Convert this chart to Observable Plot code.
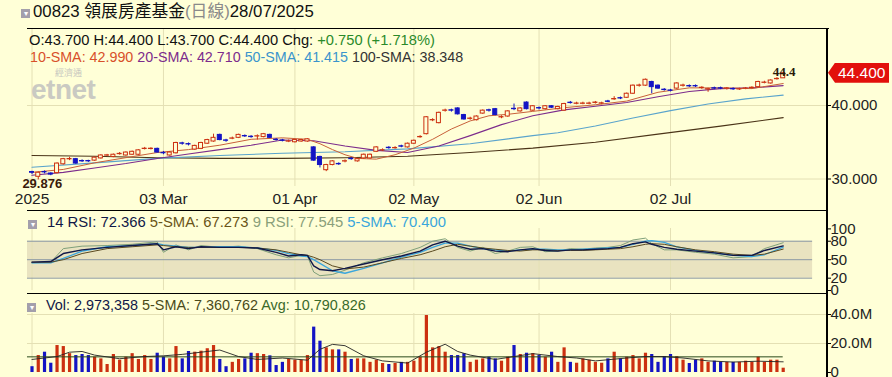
<!DOCTYPE html>
<html><head><meta charset="utf-8">
<script src="https://cdn.jsdelivr.net/npm/d3@7"></script>
<script src="https://cdn.jsdelivr.net/npm/@observablehq/plot@0.6"></script>
<style>
body{margin:0;background:#ffffd7;width:892px;height:377px;overflow:hidden;position:relative;font-family:"Liberation Sans",Arial,"Noto Sans CJK TC",sans-serif;}
.abs{position:absolute;white-space:nowrap;line-height:1;}
.cb{position:absolute;width:9px;height:9px;background:#a39fab;color:#fff;font-size:8px;line-height:9px;text-align:center;}
.hl{position:absolute;background:#000;}
svg{overflow:visible;}
</style></head><body>
<div id="root"></div>
<script>
// ---------- data ----------
const tickIndex = [0, 21, 42, 61, 81, 102];
const tickLabels = ["2025", "03 Mar", "01 Apr", "02 May", "02 Jun", "02 Jul"];
const opens = [30.95,30.3,30.95,30.75,30.8,32.0,32.68,32.7,32.45,32.45,32.5,32.8,33.18,33.0,33.38,33.2,33.3,33.3,34.08,34.08,34.1,33.55,33.2,33.5,34.85,34.75,34.0,34.1,34.8,35.1,36.0,35.25,35.48,35.6,35.85,35.75,35.78,35.7,36.0,35.35,35.25,35.08,35.0,35.1,35.1,34.3,33.0,31.2,31.9,32.05,32.38,32.75,32.4,32.8,32.8,33.7,33.88,34.25,34.18,34.45,34.3,34.8,35.68,36.1,37.98,37.6,39.28,39.35,39.6,38.7,38.18,38.0,38.9,39.35,39.5,38.38,38.5,39.55,39.2,40.4,39.3,39.65,39.5,39.9,39.5,39.3,40.38,40.23,40.23,40.23,40.35,40.25,40.55,40.83,41.0,41.05,41.6,42.68,42.7,43.2,42.7,42.15,42.05,42.3,42.68,42.65,42.65,42.38,42.18,42.35,42.35,42.28,42.25,42.18,42.28,42.38,42.5,43.08,43.0,43.58,43.7];
const highs = [31.05,30.95,31.1,30.85,32.2,32.8,32.95,32.8,32.6,32.55,33.0,33.3,33.35,33.4,33.6,33.7,33.8,34.0,34.3,34.25,34.2,33.75,33.7,35.0,35.0,34.9,34.6,35.0,35.4,36.1,36.1,35.4,35.7,36.1,36.0,35.9,36.0,36.2,36.1,35.5,35.4,35.3,35.4,35.4,35.5,34.4,33.1,32.0,32.5,32.2,32.6,32.9,32.8,33.4,33.4,34.4,34.1,34.4,34.4,34.6,34.9,35.3,35.9,38.5,38.2,39.1,39.5,39.5,39.7,38.8,38.4,38.6,39.4,39.5,39.6,38.6,39.3,40.2,39.7,40.5,40.0,39.8,40.0,40.0,39.9,40.3,40.55,40.45,40.45,40.45,40.55,40.45,40.7,41.2,41.15,41.7,42.8,42.9,43.6,43.3,42.8,42.3,42.2,43.1,42.9,42.8,42.8,42.55,42.35,42.5,42.5,42.45,42.4,42.35,42.45,42.55,43.3,43.3,43.5,43.8,44.4];
const lows = [30.6,29.876,30.7,30.45,30.7,31.9,32.5,32.0,32.25,32.25,32.4,32.7,33.05,32.9,33.25,33.1,33.2,33.2,33.95,33.95,33.55,33.3,33.1,33.4,34.6,34.5,33.9,34.0,34.7,35.0,35.2,35.0,35.35,35.5,35.65,35.55,35.3,35.6,35.5,35.15,35.05,34.95,34.9,35.0,35.0,32.4,31.5,31.0,31.8,31.85,32.2,32.55,32.3,32.7,32.7,33.6,33.75,34.05,34.05,34.25,34.2,34.7,35.55,36.0,37.8,37.5,39.1,39.1,38.7,38.0,38.0,37.9,38.8,39.1,38.6,38.2,38.4,39.3,39.1,39.4,39.2,39.4,39.4,39.6,39.4,39.2,40.2,40.1,40.1,40.1,40.2,40.1,40.4,40.7,40.8,40.95,41.5,42.5,42.6,41.6,42.2,41.95,41.85,42.2,42.5,42.45,42.45,42.2,41.8,42.15,42.15,42.1,42.05,42.05,42.15,42.25,42.4,42.95,42.9,43.45,43.7];
const closes = [30.85,30.85,30.9,30.6,32.1,32.7,32.72,32.1,32.4,32.4,32.9,33.2,33.22,33.3,33.42,33.6,33.7,33.9,34.12,34.12,33.6,33.5,33.6,34.9,34.8,34.7,34.5,34.9,35.3,35.6,35.3,35.2,35.52,36.0,35.8,35.7,35.82,36.1,35.6,35.3,35.2,35.12,35.3,35.3,35.4,32.5,31.9,31.9,32.4,32.0,32.42,32.7,32.7,33.3,33.3,34.3,33.92,34.2,34.22,34.4,34.8,35.2,35.72,38.4,38.02,39.0,39.32,39.3,38.8,38.1,38.22,38.5,39.3,39.3,38.7,38.42,39.2,39.5,39.6,39.5,39.9,39.6,39.9,39.7,39.8,40.2,40.33,40.27,40.27,40.27,40.4,40.3,40.5,40.88,40.95,41.6,42.7,42.72,43.5,42.5,42.3,42.1,42.0,43.0,42.72,42.6,42.6,42.42,42.22,42.3,42.3,42.32,42.2,42.22,42.32,42.42,43.2,43.12,43.4,43.62,44.4];
const volumes = [4.0,11.7,14,6.4,18.6,17.9,13,11.7,12.4,11.7,10.6,9.4,5.5,12.4,8.5,10.6,13,9,11.7,9,13.3,10.6,9.4,17.9,9.4,14.5,14,14.7,16.4,18.6,9,4,7,9,9.4,13.3,13,12.4,11.5,4.8,7,9,8.5,8.5,11.7,31.3,21.6,17,15.6,15.6,14,9,9.4,9.4,7,8.5,6.2,5.5,6.2,7,7,7.8,10.6,39.3,17,17.9,14,11.7,11.7,13,7,8.5,9.4,10.6,9.4,7.8,10.6,18.6,12.4,13.3,13,11.7,10.6,14,7,17,7,6.4,9.4,8.5,7,6.4,9.4,14,9.4,10.6,11.7,9.4,13.3,12.4,7,11,12.4,11,8.5,6.2,8.5,9.4,7,7.8,7,7,7,7,7.8,7,10.6,7,8.5,8.5,2.973358];

const sma10Idx = [0,5,10,15,20,25,30,35,40,44,46,48,50,52,55,58,61,64,67,70,73,76,80,85,90,95,100,105,110,115,120];
const sma10 = [30.9,31.3,32.2,32.9,33.6,34.0,34.6,35.4,35.6,35.4,34.8,34.0,33.3,32.8,32.7,33.3,34.2,35.4,36.8,37.9,38.6,38.8,39.2,39.7,40.1,40.6,41.8,42.4,42.4,42.3,42.99];
const sma20Idx = [0,5,10,15,20,25,30,35,40,45,50,55,60,65,70,75,80,85,90,95,100,105,110,115,120];
const sma20 = [30.5,30.9,31.5,32.1,32.8,33.4,34.0,34.6,35.3,35.2,34.5,33.9,33.6,34.5,35.9,37.4,38.6,39.4,39.9,40.4,41.2,41.9,42.3,42.4,42.71];
const sma50Idx = [0,10,20,30,40,50,60,70,80,84,90,96,102,108,114,120];
const sma50 = [31.6,32.2,32.8,33.2,33.5,33.7,34.1,34.8,35.9,36.3,37.2,38.3,39.3,40.2,40.9,41.415];
const sma100Idx = [0,10,20,30,40,50,60,70,80,90,100,110,120];
const sma100 = [33.2,33.1,32.9,32.8,32.8,32.9,33.1,33.6,34.2,35.0,36.1,37.2,38.348];

const rsiIdx = [0,3,5,8,12,16,20,21,23,25,27,30,33,36,39,41,43,44,45,46,48,50,53,56,59,62,64,66,68,70,72,74,76,78,80,82,84,86,88,90,92,94,96,98,99,101,103,106,109,112,115,117,120];
const rsi14 = [46,47,60,66,70,73,76,66,71,68,71,70,70,69,62,56,58,57,40,34,32,36,43,50,56,64,74,80,72,67,68,64,63,66,68,65,64,66,66,67,68,70,76,79,75,70,67,64,61,57,57,65,72.366];
const rsi14Sma = [46,46,50,60,68,71,74,73,71,70,70,70,70,69,66,62,58,57,54,50,40,35,38,45,52,58,64,71,75,72,69,67,65,64,66,66,65,65,65,66,67,68,71,75,76,75,71,66,63,59,57,59,67.273];
const rsi9 = [45,46,68,72,73,75,79,62,74,66,73,70,72,68,58,53,57,56,30,24,26,33,45,53,60,70,80,84,70,64,70,60,64,70,71,63,64,68,67,69,70,73,82,85,76,66,66,62,59,53,55,68,77.545];
const rsi9Sma = [45,45,52,64,71,73,76,74,72,70,70,71,71,69,65,60,56,55,50,44,32,28,36,45,54,62,70,77,77,72,68,66,64,66,67,67,66,66,67,68,69,70,75,80,81,78,71,65,61,57,55,58,70.4];
const rsiLevels = [20, 50, 80];
const rsiTicks = [0, 20, 50, 80, 100];

const volSmaIdx = [0,4,6,8,10,14,18,21,24,28,30,33,36,40,44,46,48,50,53,56,60,63,66,68,70,74,77,80,84,87,90,95,98,101,104,108,112,116,120];
const volSma = [9,11,14,14.5,12,9.5,11,11.5,12.5,14.5,15.5,11,9,10,8.5,16,19.4,18.5,11.5,8,6.5,14,19.5,14.5,12,9,11,13,11,10,8,10,11,11,10,8,7.2,7.8,7.360762];
const volAvg = 10.790826;
const volTicks = [0, 20, 40];
const priceTicks = [30, 40];

// ---------- styles ----------
const BG = "#ffffd7", GRID = "#e4e0b4", RED = "#cc3010", BLUE = "#1414c4";
const idx = closes.map((_, i) => i);
const up = i => closes[i] >= opens[i];
const xScale = {domain: [0, 120], range: [31.5, 782.7]};
const xNoAxis = {...xScale, axis: null};
const pts = (ix, vs) => ix.map((x, k) => ({x, y: vs[k]}));
const labelOf = new Map(tickIndex.map((t, k) => [t, tickLabels[k]]));
const root = document.getElementById("root");
const plotStyle = {background: "transparent", fontFamily: "Liberation Sans, Arial, sans-serif", color: "#222"};
function place(el, top) { el.style.position = "absolute"; el.style.left = "0px"; el.style.top = top + "px"; root.appendChild(el); return el; }

// ---------- main price panel ----------
const main = Plot.plot({
  width: 892, height: 182, marginLeft: 27, marginRight: 65, marginTop: 0, marginBottom: 24,
  style: plotStyle,
  x: xScale, y: {domain: [30, 40], range: [150.5, 77]},
  marks: [
    Plot.gridY(priceTicks, {stroke: GRID, strokeOpacity: 1}),
    Plot.gridX(tickIndex, {stroke: GRID, strokeOpacity: 1}),
    Plot.axisY(priceTicks, {anchor: "right", label: null, tickSize: 3, tickPadding: 1, fontSize: 15, tickFormat: d3.format(".3f"), stroke: "#000"}),
    Plot.axisX(tickIndex, {anchor: "bottom", label: null, tickSize: 0, tickPadding: 6, fontSize: 15.5, tickFormat: d => labelOf.get(d)}),
    Plot.line(pts(sma100Idx, sma100), {x: "x", y: "y", stroke: "#4b3418", strokeWidth: 1.1}),
    Plot.line(pts(sma50Idx, sma50), {x: "x", y: "y", stroke: "#5aa4cc", strokeWidth: 1.1}),
    Plot.line(pts(sma20Idx, sma20), {x: "x", y: "y", stroke: "#7c2c8c", strokeWidth: 1.1}),
    Plot.line(pts(sma10Idx, sma10), {x: "x", y: "y", stroke: "#c8603a", strokeWidth: 1}),
    Plot.ruleX(idx, {x: d => d, y1: d => lows[d], y2: d => highs[d], stroke: d => up(d) ? RED : BLUE, strokeWidth: 1}),
    Plot.rect(idx, {x1: d => d - 0.32, x2: d => d + 0.32, y1: d => opens[d], y2: d => closes[d],
      fill: d => up(d) ? BG : BLUE, stroke: d => up(d) ? RED : BLUE, strokeWidth: 1}),
    Plot.text([120], {x: d => d, y: d => highs[d], text: d => String(+highs[d].toFixed(1)), dx: 1, dy: -1,
      fontFamily: "Liberation Serif, serif", fontWeight: "bold", fontSize: 13, fill: "#2a1a0a"}),
    Plot.text([1], {x: d => d, y: d => lows[d], text: d => lows[d].toFixed(3), dx: 4, lineAnchor: "top", dy: -1,
      fontWeight: "bold", fontSize: 13, fill: "#3a1a0a"})
  ]
});
place(main, 28);

// ---------- RSI panel ----------
const rsi = Plot.plot({
  width: 892, height: 83, marginLeft: 27, marginRight: 65, marginTop: 18, marginBottom: 3,
  style: plotStyle,
  x: xNoAxis, y: {domain: [0, 100], range: [80, 18.4]},
  marks: [
    Plot.rect([{a: 20, b: 80}], {x1: -0.72, x2: 124.7, y1: "a", y2: "b", fill: "#e9e3c0"}),
    Plot.gridX(tickIndex, {stroke: GRID, strokeOpacity: 1}),
    Plot.ruleY(rsiLevels, {x1: -0.72, x2: 124.7, stroke: "#8a98a4", strokeWidth: 1}),
    Plot.axisY(rsiTicks, {anchor: "right", label: null, tickSize: 3, tickPadding: 0, fontSize: 15, stroke: "#000"}),
    Plot.line(pts(rsiIdx, rsi9), {x: "x", y: "y", stroke: "#7fa07a", strokeWidth: 1}),
    Plot.line(pts(rsiIdx, rsi9Sma), {x: "x", y: "y", stroke: "#3aa6dc", strokeWidth: 1.3}),
    Plot.line(pts(rsiIdx, rsi14Sma), {x: "x", y: "y", stroke: "#5a4a20", strokeWidth: 1}),
    Plot.line(pts(rsiIdx, rsi14), {x: "x", y: "y", stroke: "#101848", strokeWidth: 1.4})
  ]
});
place(rsi, 210);

// ---------- Volume panel ----------
const vol = Plot.plot({
  width: 892, height: 84, marginLeft: 27, marginRight: 65, marginTop: 20, marginBottom: 5,
  style: plotStyle,
  x: xNoAxis, y: {domain: [0, 40], range: [79, 21]},
  marks: [
    Plot.gridY([20, 40], {stroke: GRID, strokeOpacity: 1}),
    Plot.gridX(tickIndex, {stroke: GRID, strokeOpacity: 1}),
    Plot.axisY(volTicks, {anchor: "right", label: null, tickSize: 3, tickPadding: 0, fontSize: 15, stroke: "#000",
      tickFormat: d => d === 0 ? "0" : d.toFixed(1) + "M"}),
    Plot.ruleX(idx, {x: d => d, y1: 0, y2: d => volumes[d], stroke: d => up(d) ? RED : BLUE, strokeWidth: 3.2}),
    Plot.ruleY([volAvg], {x1: -0.72, x2: 120, stroke: "#2a4a1a", strokeWidth: 1}),
    Plot.line(pts(volSmaIdx, volSma), {x: "x", y: "y", stroke: "#222", strokeWidth: 0.9})
  ]
});
place(vol, 293);

// ---------- frame lines ----------
function hline(x, y, w, h) { const d = document.createElement("div"); d.className = "hl";
  Object.assign(d.style, {left: x + "px", top: y + "px", width: w + "px", height: h + "px"}); root.appendChild(d); }
hline(27, 28, 802, 1);
hline(27, 210, 800, 1);
hline(27, 293, 800, 1);
hline(826, 28, 2, 349);

// ---------- texts ----------
function txt(html, x, y, size, color, extra) { const d = document.createElement("div"); d.className = "abs";
  d.innerHTML = html; Object.assign(d.style, {left: x + "px", top: y + "px", fontSize: size + "px", color: color || "#000"}, extra || {});
  root.appendChild(d); return d; }
function cb(x, y) { const d = document.createElement("div"); d.className = "cb"; d.textContent = "▾";
  Object.assign(d.style, {left: x + "px", top: y + "px"}); root.appendChild(d); }

cb(21, 9);
txt('00823 領展房產基金<span style="color:#8a8a8a">(日線)</span>28/07/2025', 33, 4, 16.8, "#111",
  {fontFamily: '"Liberation Sans","Noto Sans CJK TC",sans-serif'});
txt('O:43.700 H:44.400 L:43.700 C:44.400 Chg: <span style="color:#2a8a2a">+0.750 (+1.718%)</span>', 29, 33, 14.7, "#111");
txt('<span style="color:#d8502a">10-SMA: 42.990</span> <span style="color:#7c2c8c">20-SMA: 42.710</span> <span style="color:#3a94cc">50-SMA: 41.415</span> <span style="color:#333">100-SMA: 38.348</span>', 30, 50, 14.3, "#000");
cb(28, 220);
txt('<span style="color:#101848">14 RSI: 72.366</span> <span style="color:#6a5418">5-SMA: 67.273</span> <span style="color:#8aa07a">9 RSI: 77.545</span> <span style="color:#3aa6dc">5-SMA: 70.400</span>', 47, 215, 14.8, "#000");
cb(27, 303);
txt('<span style="color:#101848">Vol: 2,973,358</span> <span style="color:#4a4a1a">5-SMA: 7,360,762</span> <span style="color:#3a6a2a">Avg: 10,790,826</span>', 46, 298, 14.4, "#000");

// watermark
txt('經濟通', 55, 68, 9, "#c8c8c0", {fontFamily: '"Noto Sans CJK TC",sans-serif'});
txt('etnet', 31, 76, 28, "#cacac2", {fontWeight: "bold", letterSpacing: "-0.5px"});

// price tag at last close, positioned via the y scale
const tagY = 28 + main.scale("y").apply(closes[closes.length - 1]);
const tag = txt(closes[closes.length - 1].toFixed(3), 828, tagY - 10, 15.5, "#fff",
  {background: "#e2100c", height: "20px", lineHeight: "20px", paddingLeft: "10px", paddingRight: "4px",
   clipPath: "polygon(0 50%, 7px 0, 100% 0, 100% 100%, 7px 100%)"});
</script>
</body></html>
